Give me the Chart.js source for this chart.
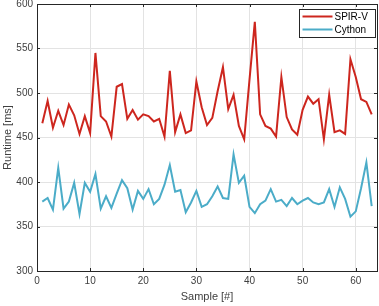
<!DOCTYPE html>
<html><head><meta charset="utf-8">
<script src="https://cdn.jsdelivr.net/npm/chart.js@4/dist/chart.umd.min.js"></script>
<style>html,body{margin:0;padding:0;background:#fff}#wrap{width:379px;height:306px}</style>
</head><body><div id="wrap"><canvas id="c" width="379" height="306"></canvas></div>
<script>
const samples = Array.from({length:63},(_,i)=>i+1);
const spirv = [466,491,461,480,464,487,475,454,474,455,545,474,468,451,507,510,471,481,470,476,
 474,468,471,451,525,456,476,455,458,513,484,464,472,502,529,482,498,463,448,515,
 580,476,463,460,451,518,473,459,453,481,496,488,493,448,498,456,458,454,538,518,493,490,476];
const cython = [378,382,369,416,370,378,399,364,399,389,409,370,384,371,387,402,393,369,390,381,
 392,375,381,397,419,389,391,366,377,390,372,375,384,395,382,381,431,399,407,372,
 365,375,379,392,378,380,373,382,375,379,382,377,375,377,392,372,394,381,361,367,393,422,373];
const xTicks = [0,10,20,30,40,50,60];
const yTicks = [300,350,400,450,500,550,600];
const seriesNames = ['SPIR-V','Cython'];
const colors = ['rgb(205,38,30)','rgb(75,172,200)'];
const FONT = 'Liberation Sans, Arial, sans-serif';
const axisColor = '#262626';

const boxPlugin = {
  id:'box',
  afterDraw(chart){
    const {ctx, chartArea:a, scales} = chart;
    ctx.save();
    ctx.strokeStyle = axisColor; ctx.lineWidth = 1;
    ctx.strokeRect(Math.round(a.left)+0.5, Math.round(a.top)+0.5, Math.round(a.right-a.left), Math.round(a.bottom-a.top));
    ctx.beginPath();
    xTicks.forEach(v=>{const x=Math.round(scales.x.getPixelForValue(v))+0.5;
      ctx.moveTo(x,a.bottom);ctx.lineTo(x,a.bottom-3);ctx.moveTo(x,a.top);ctx.lineTo(x,a.top+3);});
    yTicks.forEach(v=>{const y=Math.round(scales.y.getPixelForValue(v))+0.5;
      ctx.moveTo(a.left,y);ctx.lineTo(a.left+3,y);ctx.moveTo(a.right,y);ctx.lineTo(a.right-3,y);});
    ctx.stroke();
    const lx=299.5, ly=9.5, lw=76, lh=28;
    ctx.fillStyle='#fff'; ctx.fillRect(lx,ly,lw,lh);
    ctx.strokeStyle=axisColor; ctx.strokeRect(lx,ly,lw,lh);
    ctx.font='10px '+FONT; ctx.textBaseline='middle'; ctx.fillStyle='#000';
    chart.data.datasets.forEach((d,i)=>{
      const yy = ly+7+i*13;
      ctx.strokeStyle=d.borderColor; ctx.lineWidth=2;
      ctx.beginPath(); ctx.moveTo(lx+3,yy); ctx.lineTo(lx+33,yy); ctx.stroke();
      ctx.fillText(d.label, lx+35, yy+0.5);
    });
    ctx.restore();
  }
};

new Chart(document.getElementById('c'), {
  type:'line',
  data:{datasets:[
    {label:seriesNames[0], data:samples.map((x,i)=>({x,y:spirv[i]})), borderColor:colors[0], borderWidth:2, pointRadius:0, tension:0},
    {label:seriesNames[1], data:samples.map((x,i)=>({x,y:cython[i]})), borderColor:colors[1], borderWidth:2, pointRadius:0, tension:0}
  ]},
  options:{
    responsive:false, animation:false,
    layout:{padding:{top:4,right:2,left:1,bottom:0}},
    plugins:{legend:{display:false},tooltip:{enabled:false}},
    scales:{
      x:{type:'linear',min:0,max:64,
        afterBuildTicks(s){s.ticks=xTicks.map(v=>({value:v}));},
        afterFit(s){s.height=35;s.paddingLeft=0;s.paddingRight=0;},
        grid:{color:'#e3e3e3',drawTicks:false},
        border:{display:false},
        ticks:{font:{family:FONT,size:10},color:'#404040',padding:4,maxRotation:0},
        title:{display:true,text:'Sample [#]',font:{family:FONT,size:11},color:'#404040',padding:{top:0,bottom:2}}
      },
      y:{type:'linear',min:300,max:600,
        afterBuildTicks(s){s.ticks=yTicks.map(v=>({value:v}));},
        afterFit(s){s.width=36;s.paddingTop=0;s.paddingBottom=0;},
        grid:{color:'#e3e3e3',drawTicks:false},
        border:{display:false},
        ticks:{font:{family:FONT,size:10},color:'#404040',padding:4},
        title:{display:true,text:'Runtime [ms]',font:{family:FONT,size:11},color:'#404040',padding:{top:0,bottom:0}}
      }
    }
  },
  plugins:[boxPlugin]
});
</script></body></html>
